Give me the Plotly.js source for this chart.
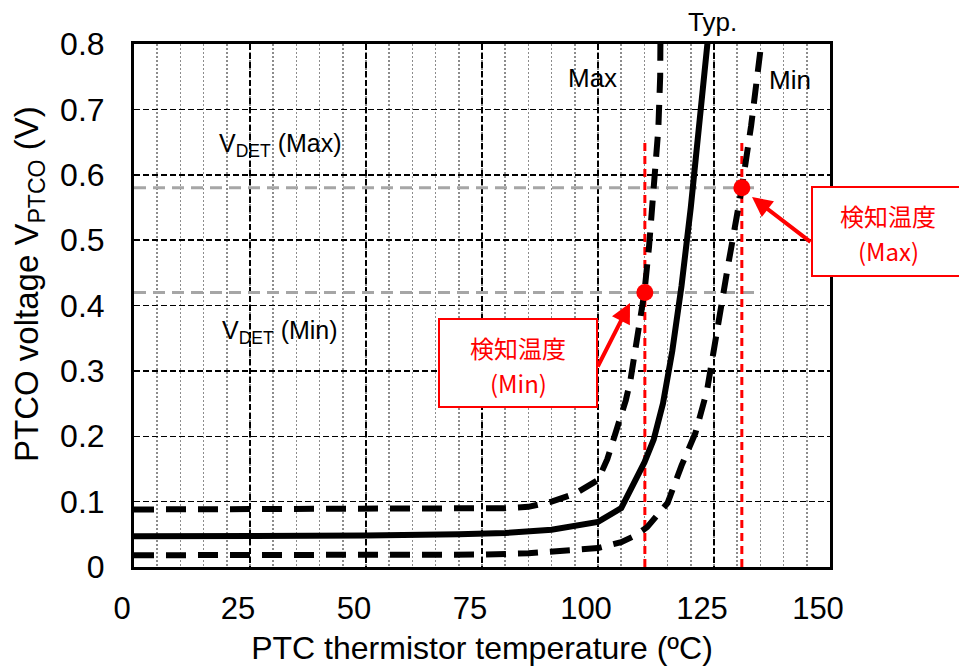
<!DOCTYPE html>
<html>
<head>
<meta charset="utf-8">
<script src="https://cdn.plot.ly/plotly-3.0.1.min.js"></script>
<style>html,body{margin:0;padding:0;background:#fff;}#chart{width:959px;height:666px;}</style>
</head>
<body>
<div id="chart"></div>
<script>
// ---- data ----
const typT = [0, 25, 50, 70, 80, 90, 95, 100, 105, 110, 112, 114, 116, 118, 120, 122, 124];
const typV = [0.047, 0.047, 0.048, 0.050, 0.052, 0.057, 0.062, 0.069, 0.090, 0.160, 0.195, 0.250, 0.330, 0.430, 0.550, 0.680, 0.830];
const maxT = [0, 25, 50, 75, 80, 85, 90, 95, 100, 102, 104, 106, 107, 109, 110, 111, 112, 113, 113.4, 113.5];
const maxV = [0.088, 0.088, 0.088, 0.088, 0.090, 0.092, 0.100, 0.112, 0.133, 0.165, 0.210, 0.255, 0.286, 0.373, 0.420, 0.490, 0.580, 0.670, 0.750, 0.850];
const minT = [0, 25, 50, 75, 85, 95, 100, 105, 108, 110.6, 113, 115, 118, 121, 123.5, 125, 126.5, 128, 131, 133, 135, 135.5];
const minV = [0.018, 0.018, 0.018, 0.019, 0.021, 0.026, 0.029, 0.038, 0.048, 0.061, 0.080, 0.098, 0.155, 0.205, 0.270, 0.335, 0.400, 0.460, 0.580, 0.675, 0.790, 0.820];
const vdetLevels = [0.42, 0.58];          // V_DET (Min), V_DET (Max)
const vdetSpan = [0, 135];                // extent of the V_DET reference lines
const detTemps = [110.1, 131.0];          // 検知温度 (Min), (Max)
const detVolts = [0.42, 0.58];
const detLineTop = 0.65;
const xTicks = [0, 25, 50, 75, 100, 125, 150];
const xTickText = ['0', '25', '50', '75', '100', '125', '150'];
const yTicks = [0, 0.1, 0.2, 0.3, 0.4, 0.5, 0.6, 0.7, 0.8];
const yTickText = ['0', '0.1', '0.2', '0.3', '0.4', '0.5', '0.6', '0.7', '0.8'];

const FONT = 'Liberation Sans, Arial, sans-serif';
const CJK = 'Noto Sans CJK JP, Liberation Sans, sans-serif';

const traces = [];
// V_DET gray lines
vdetLevels.forEach(v => traces.push({
  x: vdetSpan, y: [v, v], mode: 'lines', hoverinfo: 'skip', showlegend: false,
  line: {color: '#a6a6a6', width: 3, dash: '12px,7px'}
}));
// detection temperature red lines
detTemps.forEach(t => traces.push({
  x: [t, t], y: [0, detLineTop], mode: 'lines', hoverinfo: 'skip', showlegend: false,
  line: {color: '#ff0000', width: 3, dash: '8px,5px'}
}));
traces.push({x: maxT, y: maxV, mode: 'lines', name: 'Max', showlegend: false,
  line: {color: '#000', width: 6, dash: '20px,12px'}});
traces.push({x: minT, y: minV, mode: 'lines', name: 'Min', showlegend: false,
  line: {color: '#000', width: 6, dash: '20px,12px'}});
traces.push({x: typT, y: typV, mode: 'lines', name: 'Typ.', showlegend: false,
  line: {color: '#000', width: 6}});
traces.push({x: detTemps, y: detVolts, mode: 'markers', showlegend: false,
  marker: {color: '#ff0000', size: 17}});

// plot geometry helpers (paper coords)
const L = 134, R = 830, T = 44, B = 567;
const px = x => (x - L) / (R - L);
const py = y => (B - y) / (B - T);

const whiteBox = (x0, x1, y0, y1) => ({
  type: 'rect', xref: 'paper', yref: 'paper', layer: 'between',
  x0: px(x0), x1: px(x1), y0: py(y1), y1: py(y0),
  fillcolor: '#fff', line: {width: 0}
});
const redBox = (x0, x1, y0, y1) => ({
  type: 'rect', xref: 'paper', yref: 'paper', layer: 'above',
  x0: px(x0), x1: px(x1), y0: py(y1), y1: py(y0),
  fillcolor: '#fff', line: {width: 2, color: '#ff0000'}
});
const label = (x, y, text, size, extra) => Object.assign({
  xref: 'paper', yref: 'paper', x: px(x), y: py(y), text: text, showarrow: false,
  xanchor: 'center', yanchor: 'middle',
  font: {size: size, family: FONT, color: '#000'}
}, extra || {});
const redText = (x, y, text) => label(x, y, text, 24, {font: {size: 24, family: CJK, color: '#ff0000'}});

const layout = {
  width: 959, height: 666,
  margin: {l: L, r: 959 - R, t: T, b: 666 - B},
  paper_bgcolor: '#fff', plot_bgcolor: '#fff',
  font: {family: FONT, color: '#000'},
  showlegend: false,
  xaxis: {
    range: [0, 150], tickvals: xTicks, ticktext: xTickText,
    ticks: '', ticklabelstandoff: 12, ticklabelshift: -12,
    tickfont: {size: 31, family: FONT, color: '#000'},
    showline: true, mirror: true, linecolor: '#000', linewidth: 3,
    showgrid: true, gridcolor: '#000', gridwidth: 1.5, griddash: '6px,3px',
    minor: {dtick: 5, showgrid: true, gridcolor: '#8c8c8c', gridwidth: 1.5, griddash: '2px,2px'},
    zeroline: false,
    title: {text: 'PTC thermistor temperature (ºC)', font: {size: 32, family: FONT, color: '#000'}, standoff: 12}
  },
  yaxis: {
    range: [0, 0.8], tickvals: yTicks, ticktext: yTickText,
    ticks: '', ticklabelstandoff: 20,
    tickfont: {size: 32, family: FONT, color: '#000'},
    showline: true, mirror: true, linecolor: '#000', linewidth: 3,
    showgrid: true, gridcolor: '#000', gridwidth: 1.5, griddash: '6px,3px',
    zeroline: false
  },
  shapes: [
    whiteBox(188, 373, 112, 178),
    whiteBox(189, 373, 298, 366),
    whiteBox(540, 640, 52, 102),
    whiteBox(738, 828, 52, 102),
    redBox(439, 597, 319, 407),
    redBox(812, 966, 187, 276)
  ],
  annotations: [
    label(29, 284, 'PTCO voltage V<sub>PTCO</sub> (V)', 33, {textangle: -90}),
    label(280, 145, 'V<sub>DET</sub> (Max)', 25),
    label(280, 332, 'V<sub>DET</sub> (Min)', 25),
    label(592, 78, 'Max', 26),
    label(790, 80, 'Min', 26),
    label(712, 22, 'Typ.', 26),
    redText(518, 348, '検知温度'),
    redText(518, 382, '(Min)'),
    redText(888, 216, '検知温度'),
    redText(888, 250, '(Max)'),
    // arrows
    {xref: 'paper', yref: 'paper', x: px(630), y: py(303), ax: -33, ay: 65, text: '',
     showarrow: true, arrowhead: 2, arrowsize: 1, arrowwidth: 4, arrowcolor: '#ff0000', standoff: 0},
    {xref: 'paper', yref: 'paper', x: px(752), y: py(197), ax: 60, ay: 46, text: '',
     showarrow: true, arrowhead: 2, arrowsize: 1, arrowwidth: 4, arrowcolor: '#ff0000', standoff: 0}
  ]
};

Plotly.newPlot('chart', traces, layout, {staticPlot: true, displayModeBar: false});
</script>
</body>
</html>
